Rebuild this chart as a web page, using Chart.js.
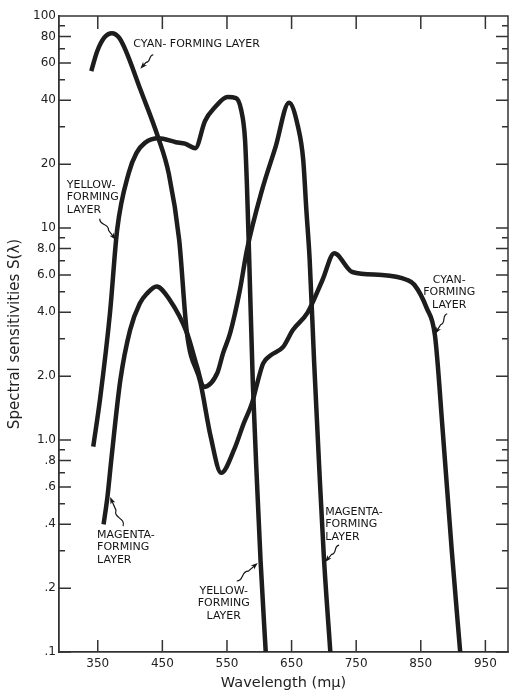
<!DOCTYPE html>
<html>
<head>
<meta charset="utf-8">
<script src="https://cdn.jsdelivr.net/npm/chart.js@4/dist/chart.umd.min.js"></script>
<style>
  html, body { margin: 0; padding: 0; background: #fff; }
</style>
</head>
<body>
<canvas id="chart" width="509" height="693"></canvas>
<script>
// Spectral sensitivity S(lambda) of the three layers
var cyanNm = [340, 349, 360, 372, 383, 393, 416, 443, 460, 476, 488, 509, 525, 541, 561, 576, 589, 597, 606, 617, 637, 652, 675, 698, 716, 744, 790, 828, 840, 859, 872, 884, 898, 911];
var cyanS = [55, 68, 79, 83, 79, 69, 45, 27, 18, 8.8, 3.2, 1.86, 1.03, 0.70, 0.90, 1.2, 1.5, 1.86, 2.3, 2.5, 2.75, 3.3, 4.0, 5.7, 7.6, 6.2, 6.0, 5.7, 5.4, 4.2, 3.1, 1.1, 0.30, 0.1];

var magentaNm = [359, 365, 371, 385, 400, 415, 426, 441, 461, 488, 504, 514, 535, 544, 555, 570, 581, 604, 625, 646, 660, 668, 673, 678, 685, 693, 700, 710];
var magentaS = [0.40, 0.54, 0.81, 1.92, 3.3, 4.4, 4.9, 5.3, 4.6, 3.2, 2.2, 1.78, 2.07, 2.57, 3.2, 5.1, 7.9, 15, 24, 39, 30, 21, 12, 7.1, 2.3, 0.72, 0.28, 0.1];

var yellowNm = [343, 354, 369, 380, 398, 410, 423, 444, 471, 485, 501, 516, 531, 551, 564, 572, 578, 581, 584, 590, 597, 602, 610];
var yellowS = [0.93, 1.6, 4.0, 9.8, 18.2, 22.6, 25.2, 26.5, 25.4, 25, 23.8, 32, 37, 41.5, 41, 36, 26, 15.6, 7.9, 1.86, 0.58, 0.27, 0.1];

var xTicks = [350, 450, 550, 650, 750, 850, 950];
var yTicks = [0.1, 0.2, 0.4, 0.6, 0.8, 1, 2, 4, 6, 8, 10, 20, 40, 60, 80, 100];
var yTickLabels = ['.1', '.2', '.4', '.6', '.8', '1.0', '2.0', '4.0', '6.0', '8.0', '10', '20', '40', '60', '80', '100'];
var yMinorTicks = [0.3, 0.5, 0.7, 0.9, 3, 5, 7, 9, 30, 50, 70, 90];

// Curve labels: anchor in data units, arrow as pixel offsets from the anchor
var notes = [
    { lines: ['CYAN- FORMING LAYER'], nm: 405, s: 74, align: 'left', arrow: [20, 11, 7, 25] },
    { lines: ['YELLOW-', 'FORMING', 'LAYER'], nm: 302, s: 16, align: 'left', arrow: [33, 34, 49, 55] },
    { lines: ['CYAN-', 'FORMING', 'LAYER'], nm: 894, s: 5.7, align: 'center', arrow: [-2, 34, -14, 54] },
    { lines: ['MAGENTA-', 'FORMING', 'LAYER'], nm: 349, s: 0.356, align: 'left', arrow: [26, -9, 13, -38] },
    { lines: ['YELLOW-', 'FORMING', 'LAYER'], nm: 545, s: 0.194, align: 'center', arrow: [13, -10, 34, -28] },
    { lines: ['MAGENTA-', 'FORMING', 'LAYER'], nm: 702, s: 0.457, align: 'left', arrow: [14, 33, 0, 50] }
];

var ink = '#1d1d1d';

function toPoints(xs, ys) {
    return xs.map(function (x, i) { return { x: x, y: ys[i] }; });
}

function curve(label, xs, ys) {
    return {
        label: label,
        data: toPoints(xs, ys),
        borderColor: ink,
        borderWidth: 4.5,
        pointRadius: 0,
        fill: false,
        cubicInterpolationMode: 'monotone',
        borderJoinStyle: 'round'
    };
}

function drawArrow(ctx, x0, y0, x1, y1) {
    var dx = x1 - x0, dy = y1 - y0, len = Math.hypot(dx, dy);
    var ux = dx / len, uy = dy / len, nx = -uy, ny = ux, w = len * 0.18;
    ctx.beginPath();
    ctx.moveTo(x0, y0);
    ctx.bezierCurveTo(x0 + dx * 0.2 + nx * w, y0 + dy * 0.2 + ny * w,
                      x0 + dx * 0.35 - nx * w, y0 + dy * 0.35 - ny * w,
                      x0 + dx * 0.55, y0 + dy * 0.55);
    ctx.lineTo(x1 - ux * 3, y1 - uy * 3);
    ctx.stroke();
    ctx.beginPath();
    ctx.moveTo(x1, y1);
    ctx.lineTo(x1 - ux * 7 + nx * 2.6, y1 - uy * 7 + ny * 2.6);
    ctx.lineTo(x1 - ux * 5, y1 - uy * 5);
    ctx.lineTo(x1 - ux * 7 - nx * 2.6, y1 - uy * 7 - ny * 2.6);
    ctx.closePath();
    ctx.fill();
}

// Inward ticks on all four sides, plus the top and right edges of the frame
var frameTicks = {
    id: 'frameTicks',
    afterDatasetsDraw: function (chart) {
        var ctx = chart.ctx, a = chart.chartArea, xs = chart.scales.x, ys = chart.scales.y;
        ctx.save();
        ctx.strokeStyle = '#333';
        ctx.lineWidth = 1.5;
        ctx.beginPath();
        ctx.moveTo(a.left, a.top);
        ctx.lineTo(a.right, a.top);
        ctx.lineTo(a.right, a.bottom);
        xTicks.forEach(function (v) {
            var px = xs.getPixelForValue(v);
            ctx.moveTo(px, a.bottom); ctx.lineTo(px, a.bottom - 12);
            ctx.moveTo(px, a.top); ctx.lineTo(px, a.top + 13);
        });
        yTicks.concat(yMinorTicks).forEach(function (v) {
            var py = ys.getPixelForValue(v);
            var len = yMinorTicks.indexOf(v) >= 0 ? 6 : 12;
            ctx.moveTo(a.left, py); ctx.lineTo(a.left + len, py);
            ctx.moveTo(a.right, py); ctx.lineTo(a.right - len, py);
        });
        ctx.stroke();
        ctx.restore();
    }
};

var curveNotes = {
    id: 'curveNotes',
    afterDraw: function (chart) {
        var ctx = chart.ctx, xs = chart.scales.x, ys = chart.scales.y;
        ctx.save();
        ctx.fillStyle = '#151515';
        ctx.strokeStyle = '#151515';
        ctx.lineWidth = 1.2;
        ctx.font = '11px "DejaVu Sans"';
        ctx.textBaseline = 'middle';
        notes.forEach(function (n) {
            var x = xs.getPixelForValue(n.nm), y = ys.getPixelForValue(n.s);
            ctx.textAlign = n.align;
            n.lines.forEach(function (t, i) {
                ctx.fillText(t, x, y + i * 12.5);
            });
            drawArrow(ctx, x + n.arrow[0], y + n.arrow[1], x + n.arrow[2], y + n.arrow[3]);
        });
        ctx.restore();
    }
};

Chart.defaults.font.family = '"DejaVu Sans", sans-serif';
Chart.defaults.color = '#222';

new Chart(document.getElementById('chart'), {
    type: 'line',
    data: {
        datasets: [
            curve('Cyan-forming layer', cyanNm, cyanS),
            curve('Magenta-forming layer', magentaNm, magentaS),
            curve('Yellow-forming layer', yellowNm, yellowS)
        ]
    },
    options: {
        responsive: false,
        animation: false,
        layout: { padding: { left: 6.5, top: 16, right: 1, bottom: 0 } },
        plugins: {
            legend: { display: false },
            tooltip: { enabled: false },
            title: { display: false }
        },
        scales: {
            x: {
                type: 'linear',
                min: 290,
                max: 985,
                afterBuildTicks: function (scale) {
                    scale.ticks = xTicks.map(function (v) { return { value: v }; });
                },
                afterFit: function (scale) { scale.height = 41; },
                ticks: {
                    font: { size: 12 },
                    padding: 5,
                    maxRotation: 0,
                    callback: function (value) { return String(value); }
                },
                grid: { display: false, drawTicks: false },
                border: { display: true, color: '#333', width: 1.8 },
                title: {
                    display: true,
                    text: 'Wavelength (m\u03bc)',
                    font: { size: 14.5 },
                    padding: { top: 2.9, bottom: 1.3 }
                }
            },
            y: {
                type: 'logarithmic',
                min: 0.1,
                max: 100,
                afterBuildTicks: function (scale) {
                    scale.ticks = yTicks.map(function (v) { return { value: v }; });
                },
                afterFit: function (scale) { scale.width = 52.5; },
                ticks: {
                    font: { size: 12 },
                    padding: 3,
                    callback: function (value, index) { return yTickLabels[index]; }
                },
                grid: { display: false, drawTicks: false },
                border: { display: true, color: '#333', width: 1.8 },
                title: {
                    display: true,
                    text: 'Spectral sensitivities S(\u03bb)',
                    font: { size: 15 },
                    padding: { top: 0, bottom: 4 }
                }
            }
        }
    },
    plugins: [frameTicks, curveNotes]
});
</script>
</body>
</html>
